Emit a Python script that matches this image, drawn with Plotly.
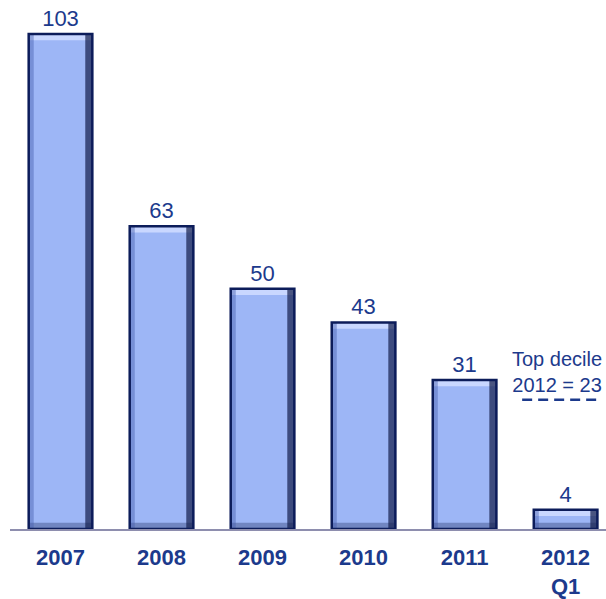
import plotly.graph_objects as go

categories = ["2007", "2008", "2009", "2010", "2011", "2012<br>Q1"]
values = [103, 63, 50, 43, 31, 4]
value_labels = ["103", "63", "50", "43", "31", "4"]
benchmark_label = "Top decile<br>2012 = 23"
benchmark_x = [4.57, 5.34]
benchmark_level = [26.9, 26.9]

TXT = "#1c3a8c"
NAVY = "#0c1c5a"
FILL = "#9db6f6"
FONT = "Liberation Sans, Arial, sans-serif"

W = 0.63
bevel = 1.3
xs = list(range(len(categories)))

fig = go.Figure()
# main fill
fig.add_trace(go.Bar(x=xs, y=values, width=W, marker=dict(color=FILL, line=dict(width=0)),
                     hoverinfo="skip"))
# top highlight
fig.add_trace(go.Bar(x=xs, y=[bevel] * len(values), base=[v - bevel for v in values], width=W,
                     marker=dict(color="#c9d7ff", line=dict(width=0)), hoverinfo="skip"))
# bottom shade
fig.add_trace(go.Bar(x=xs, y=[bevel] * len(values), base=[0] * len(values), width=W,
                     marker=dict(color="rgba(70,85,140,0.5)", line=dict(width=0)), hoverinfo="skip"))
# left shade
fig.add_trace(go.Bar(x=xs, y=values, width=0.05, offset=-W / 2,
                     marker=dict(color="rgba(70,95,175,0.45)", line=dict(width=0)), hoverinfo="skip"))
# right shade
fig.add_trace(go.Bar(x=xs, y=values, width=0.07, offset=W / 2 - 0.07,
                     marker=dict(color="rgba(20,30,75,0.7)", line=dict(width=0)), hoverinfo="skip"))
# outline + labels
fig.add_trace(go.Bar(x=xs, y=values, width=W, marker=dict(color="rgba(0,0,0,0)", line=dict(color=NAVY, width=2.5)),
                     text=value_labels, textposition="outside", cliponaxis=False,
                     textfont=dict(family=FONT, size=22, color=TXT), hoverinfo="skip"))
# benchmark dashed line
fig.add_trace(go.Scatter(x=benchmark_x, y=benchmark_level, mode="lines",
                         line=dict(color=TXT, width=2.5, dash="10px,6px"), hoverinfo="skip", cliponaxis=False))

fig.add_annotation(x=sum(benchmark_x) / 2, y=benchmark_level[0], yshift=2, xshift=-4, text=benchmark_label,
                   showarrow=False, xref="x", yref="y", yanchor="bottom",
                   font=dict(family=FONT, size=20, color=TXT))

fig.update_layout(
    width=606, height=599,
    margin=dict(l=10, r=0, t=0, b=68),
    plot_bgcolor="white", paper_bgcolor="white",
    barmode="overlay", showlegend=False,
    xaxis=dict(tickmode="array", tickvals=xs, ticktext=["<b>" + c + "</b>" for c in categories],
               range=[-0.5, 5.4], showgrid=False, zeroline=False, showline=True,
               linecolor="#8e8eae", linewidth=2, ticks="", ticklabelstandoff=8,
               tickfont=dict(family=FONT, size=22, color=TXT)),
    yaxis=dict(range=[0, 110.1], visible=False, showgrid=False, zeroline=False),
)

fig.write_html("out.html", config={"displayModeBar": False},
               post_script="document.body.style.margin='0px';document.body.style.overflow='hidden';")
